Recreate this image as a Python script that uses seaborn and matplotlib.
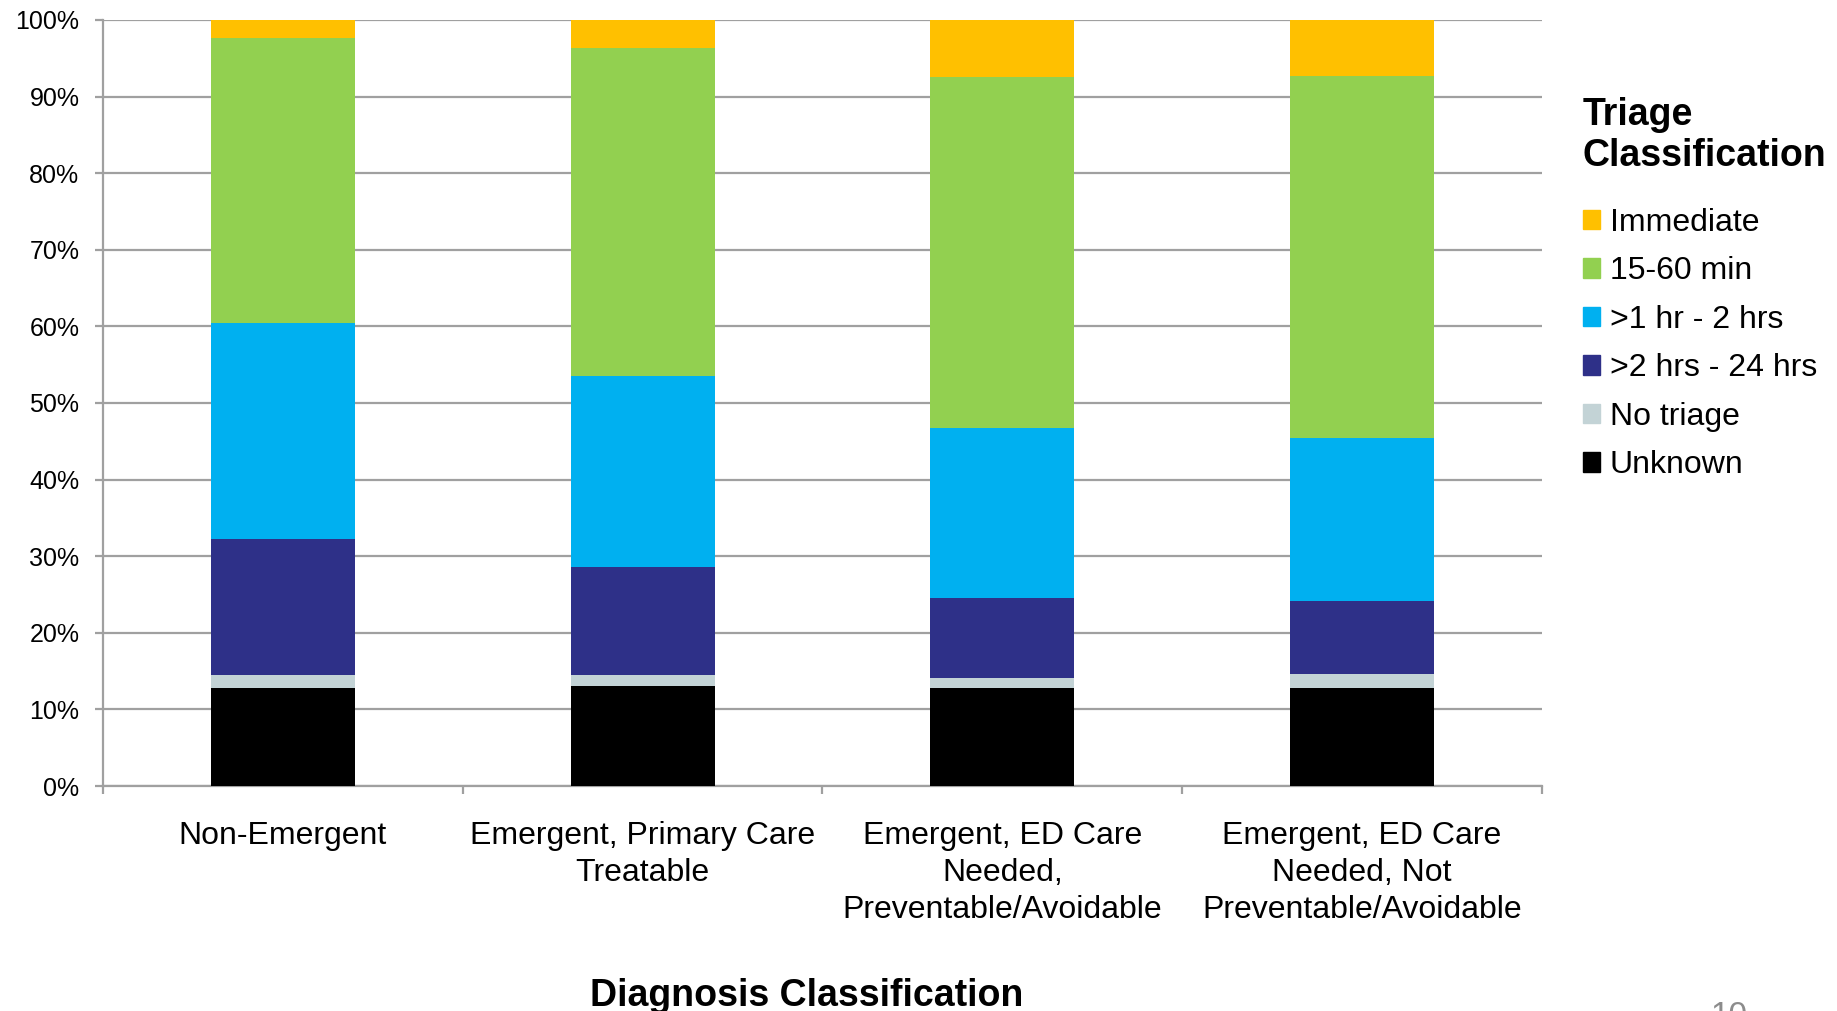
import matplotlib
matplotlib.use("Agg")
import matplotlib.pyplot as plt
from matplotlib.patches import Rectangle
import numpy as np
import pandas as pd
import seaborn as sns

# Diagnosis categories (x axis)
categories = [
    "Non-Emergent",
    "Emergent, Primary Care\nTreatable",
    "Emergent, ED Care\nNeeded,\nPreventable/Avoidable",
    "Emergent, ED Care\nNeeded, Not\nPreventable/Avoidable",
]

# Triage shares (percent), listed bottom to top of each stack
unknown = [12.8, 13.0, 12.8, 12.8]
no_triage = [1.7, 1.5, 1.3, 1.8]
hrs_2_24 = [17.8, 14.1, 10.5, 9.6]
hr_1_2 = [28.2, 24.9, 22.2, 21.2]
min_15_60 = [37.2, 42.9, 45.8, 47.3]
immediate = [2.3, 3.6, 7.4, 7.3]

series_names = ["Unknown", "No triage", ">2 hrs - 24 hrs", ">1 hr - 2 hrs", "15-60 min", "Immediate"]
series_values = [unknown, no_triage, hrs_2_24, hr_1_2, min_15_60, immediate]
series_colors = ["#000000", "#C3D3D6", "#2E3088", "#00B0F0", "#92D050", "#FFC000"]

sns.set_theme(style="white")
plt.rcParams["font.family"] = ["Liberation Sans", "DejaVu Sans"]
plt.rcParams["text.color"] = "black"
plt.rcParams["axes.labelcolor"] = "black"
plt.rcParams["xtick.labelcolor"] = "black"
plt.rcParams["ytick.labelcolor"] = "black"

fig = plt.figure(figsize=(18.37, 10.11), dpi=100)
ax = fig.add_axes([103 / 1837, 1 - 786 / 1011, (1542 - 103) / 1837, (786 - 20) / 1011])

# Stacked bars: draw cumulative totals from the top layer down
cum = np.cumsum(np.array(series_values), axis=0)
for i in range(len(series_names) - 1, -1, -1):
    df = pd.DataFrame({"category": categories, "value": cum[i]})
    sns.barplot(data=df, x="category", y="value", color=series_colors[i],
                width=0.4, saturation=1, ax=ax, zorder=3, linewidth=0)

ax.set_xlim(-0.5, 3.5)
ax.set_ylim(0, 100)

grid_c = "#A0A0A0"
ax.set_yticks(np.arange(0, 101, 10))
ax.set_yticklabels([f"{v}%" for v in range(0, 101, 10)], fontsize=18, color="black")
ax.yaxis.grid(True, color=grid_c, linewidth=1.6, zorder=0)
ax.set_axisbelow(True)
ax.tick_params(axis="y", which="major", left=True, length=6, width=1.6, color=grid_c, pad=11)

ax.set_xticks(range(len(categories)))
ax.set_xticklabels(categories, fontsize=23, linespacing=1.3, color="black")
ax.tick_params(axis="x", which="major", bottom=True, length=0, pad=25)
ax.set_xticks(np.arange(-0.5, 4.0, 1.0), minor=True)
ax.tick_params(axis="x", which="minor", bottom=True, length=6, width=1.6, color=grid_c)

for side in ["top", "right"]:
    ax.spines[side].set_visible(False)
for side in ["left", "bottom"]:
    ax.spines[side].set_color(grid_c)
    ax.spines[side].set_linewidth(1.6)

ax.set_ylabel("")
ax.set_xlabel("Diagnosis Classification", fontsize=27, fontweight="bold", va="center", color="black")
ax.xaxis.set_label_coords((807 - 103) / (1542 - 103), (786 - 996) / (786 - 20))

# Legend lists the top layer first
handles = [Rectangle((0, 0), 1, 1, color=series_colors[i]) for i in range(len(series_names) - 1, -1, -1)]
labels = [series_names[i] for i in range(len(series_names) - 1, -1, -1)]
leg = fig.legend(handles, labels, title="Triage\nClassification", loc="upper left",
                 bbox_to_anchor=(1570 / 1837, 1 - 84 / 1011), frameon=False,
                 fontsize=23, handlelength=0.55, handleheight=0.55, handletextpad=0.3,
                 labelspacing=0.58, alignment="left", borderaxespad=0)
leg.get_title().set_fontsize(27)
leg.get_title().set_fontweight("bold")
leg.get_title().set_color("black")
for t in leg.get_texts():
    t.set_color("black")
leg._legend_box.sep = 24

# Page number at the bottom edge
fig.text(1729 / 1837, 1 - 1001 / 1011, "10", fontsize=24, color="#8C8C8C", ha="center", va="top")

fig.savefig("out.png", dpi=100)
